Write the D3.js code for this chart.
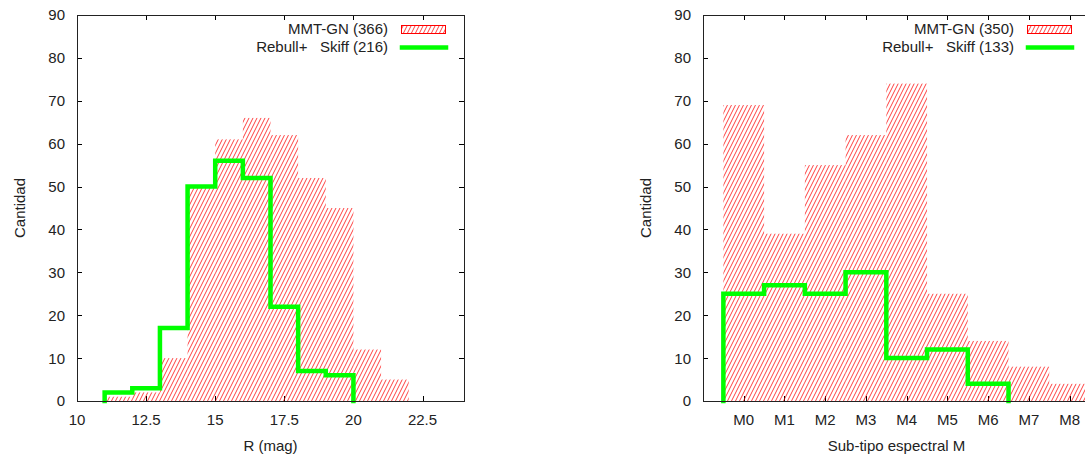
<!DOCTYPE html>
<html>
<head>
<meta charset="utf-8">
<script src="https://cdn.jsdelivr.net/npm/d3@7"></script>
<style>
  html, body { margin: 0; padding: 0; background: #fff; }
  svg { display: block; font-family: "Liberation Sans", Arial, sans-serif; }
  text { fill: #222; white-space: pre; }
</style>
</head>
<body>
<svg id="chart" width="1085" height="457"></svg>
<script>
// R magnitude histogram (bins of 1 mag, given by lower edge)
const magBinStart = [11, 12, 13, 14, 15, 16, 17, 18, 19, 20, 21];
const magMMT = [1, 2, 10, 50, 61, 66, 62, 52, 45, 12, 5];
const magRebullStart = [11, 12, 13, 14, 15, 16, 17, 18, 19];
const magRebull = [2, 3, 17, 50, 56, 52, 22, 7, 6];
const magTicks = [10, 12.5, 15, 17.5, 20, 22.5];

// Spectral sub-type histogram (M0 ... M8)
const subTypes = ["M0", "M1", "M2", "M3", "M4", "M5", "M6", "M7", "M8"];
const subMMT = [69, 39, 55, 62, 74, 25, 14, 8, 4];
const subRebull = [25, 27, 25, 30, 10, 12, 4];

const countTicks = [0, 10, 20, 30, 40, 50, 60, 70, 80, 90];

const legendMMTLeft = "MMT-GN (366)";
const legendRebLeft = "Rebull+   Skiff (216)";
const legendMMTRight = "MMT-GN (350)";
const legendRebRight = "Rebull+   Skiff (133)";

const RED = "#ff0000";
const GREEN = "#00ff00";

const svg = d3.select("#chart");

// diagonal hatch used for the MMT-GN bars
const defs = svg.append("defs");
const pat = defs.append("pattern")
  .attr("id", "hatch")
  .attr("patternUnits", "userSpaceOnUse")
  .attr("width", 4).attr("height", 8);
[-4, 0, 4].forEach(dx => {
  pat.append("line")
    .attr("x1", dx).attr("y1", 8).attr("x2", dx + 4).attr("y2", 0)
    .attr("stroke", RED).attr("stroke-width", 1).attr("stroke-opacity", 0.75);
});

function panel(opts) {
  const { left, right, top, bottom, xDomain } = opts;
  const g = svg.append("g");
  const x = d3.scaleLinear().domain(xDomain).range([left, right]);
  const y = d3.scaleLinear().domain([0, 90]).range([bottom, top]);

  // ticks (inward, mirrored)
  const tl = 5;
  const tg = g.append("g").attr("stroke", "#000").attr("stroke-width", 1);
  countTicks.forEach(v => {
    const yy = Math.round(y(v)) + 0.5;
    tg.append("line").attr("x1", left).attr("x2", left + tl).attr("y1", yy).attr("y2", yy);
    tg.append("line").attr("x1", right).attr("x2", right - tl).attr("y1", yy).attr("y2", yy);
  });
  opts.xTickVals.forEach(v => {
    const xx = Math.round(x(v)) + 0.5;
    tg.append("line").attr("x1", xx).attr("x2", xx).attr("y1", bottom).attr("y2", bottom - tl);
    tg.append("line").attr("x1", xx).attr("x2", xx).attr("y1", top).attr("y2", top + tl);
  });

  // hatched bars
  g.append("g").selectAll("rect")
    .data(opts.bars)
    .join("rect")
    .attr("x", d => x(d.x0))
    .attr("width", d => x(d.x1) - x(d.x0))
    .attr("y", d => y(d.v))
    .attr("height", d => y(0) - y(d.v))
    .attr("fill", "url(#hatch)");

  // step outline
  const pts = [[opts.steps[0].x0, 0]];
  opts.steps.forEach(d => { pts.push([d.x0, d.v]); pts.push([d.x1, d.v]); });
  pts.push([opts.steps[opts.steps.length - 1].x1, 0]);
  g.append("path")
    .attr("d", d3.line().x(p => x(p[0])).y(p => y(p[1]))(pts))
    .attr("fill", "none")
    .attr("stroke", GREEN)
    .attr("stroke-width", 4.5)
    .attr("stroke-linejoin", "miter")
    .attr("stroke-linecap", "square");

  // frame
  g.append("rect")
    .attr("x", left + 0.5).attr("y", top + 0.5)
    .attr("width", right - left).attr("height", bottom - top)
    .attr("fill", "none").attr("stroke", "#222").attr("stroke-width", 1);

  // tick labels
  const fs = 15;
  countTicks.forEach(v => {
    g.append("text").attr("x", left - 12).attr("y", y(v)).attr("dy", "0.36em")
      .attr("text-anchor", "end").attr("font-size", fs).text(v);
  });
  opts.xTickVals.forEach((v, i) => {
    g.append("text").attr("x", x(v)).attr("y", bottom + 24)
      .attr("text-anchor", "middle").attr("font-size", fs).text(opts.xTickText[i]);
  });

  // axis titles
  g.append("text").attr("x", (left + right) / 2).attr("y", bottom + 50)
    .attr("text-anchor", "middle").attr("font-size", fs).text(opts.xTitle);
  g.append("text")
    .attr("transform", `translate(${opts.yTitleX},${(top + bottom) / 2}) rotate(-90)`)
    .attr("text-anchor", "middle").attr("font-size", fs).text("Cantidad");

  // legend
  const lx = right - 18;
  const tx = right - 76;
  g.append("text").attr("x", tx).attr("y", 33.5).attr("text-anchor", "end")
    .attr("font-size", fs).text(opts.legend[0]);
  g.append("text").attr("x", tx).attr("y", 52).attr("text-anchor", "end")
    .attr("font-size", fs).text(opts.legend[1]);
  g.append("rect").attr("x", lx - 44.5).attr("y", 25.5).attr("width", 44).attr("height", 8)
    .attr("fill", "url(#hatch)").attr("stroke", RED).attr("stroke-width", 1);
  g.append("line").attr("x1", lx - 44).attr("x2", lx).attr("y1", 47.5).attr("y2", 47.5)
    .attr("stroke", GREEN).attr("stroke-width", 4.5).attr("stroke-linecap", "square");
}

panel({
  left: 77, right: 464, top: 15, bottom: 401,
  xDomain: [10, 24],
  xTickVals: magTicks,
  xTickText: magTicks.map(v => (v % 1 ? v.toFixed(1) : String(v))),
  bars: magBinStart.map((s, i) => ({ x0: s, x1: s + 1, v: magMMT[i] })),
  steps: magRebullStart.map((s, i) => ({ x0: s, x1: s + 1, v: magRebull[i] })),
  xTitle: "R (mag)",
  yTitleX: 25,
  legend: [legendMMTLeft, legendRebLeft]
});

panel({
  left: 703, right: 1090, top: 15, bottom: 401,
  xDomain: [-1, 8.5],
  xTickVals: subTypes.map((_, i) => i),
  xTickText: subTypes,
  bars: subMMT.map((v, i) => ({ x0: i - 0.5, x1: i + 0.5, v })),
  steps: subRebull.map((v, i) => ({ x0: i - 0.5, x1: i + 0.5, v })),
  xTitle: "Sub-tipo espectral M",
  yTitleX: 651,
  legend: [legendMMTRight, legendRebRight]
});
</script>
</body>
</html>
